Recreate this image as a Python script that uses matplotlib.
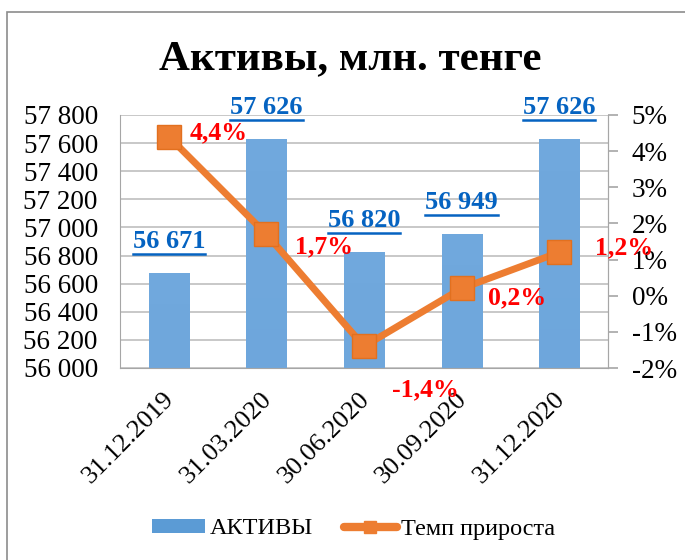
import matplotlib
matplotlib.use("Agg")
import matplotlib.pyplot as plt
import numpy as np
from matplotlib.colors import LinearSegmentedColormap
from matplotlib.lines import Line2D
from matplotlib.patches import Rectangle
from matplotlib.transforms import ScaledTranslation

categories = ["31.12.2019", "31.03.2020", "30.06.2020", "30.09.2020", "31.12.2020"]
assets = [56671, 57626, 56820, 56949, 57626]
asset_labels = ["56 671", "57 626", "56 820", "56 949", "57 626"]
growth = [4.4, 1.7, -1.4, 0.2, 1.2]
growth_labels = ["4,4%", "1,7%", "-1,4%", "0,2%", "1,2%"]
left_ticks = [56000, 56200, 56400, 56600, 56800, 57000, 57200, 57400, 57600, 57800]
left_tick_labels = ["56 000", "56 200", "56 400", "56 600", "56 800", "57 000",
                    "57 200", "57 400", "57 600", "57 800"]
right_ticks = [-2, -1, 0, 1, 2, 3, 4, 5]
right_tick_labels = ["-2%", "-1%", "0%", "1%", "2%", "3%", "4%", "5%"]

# label offsets in pixels (dx, dy) relative to marker, for growth labels
growth_offsets = [(21, 4), (29, -13), (28, -43), (26, -9), (36, 5)]

plt.rcParams['font.family'] = ['Liberation Serif', 'DejaVu Serif']

W, H = 685, 560
fig = plt.figure(figsize=(W / 100, H / 100), dpi=100)
px = 72 / 100  # points per pixel

# outer border
fig.patches.append(Rectangle((7 / W, -0.1), 2, (1 - 12 / H) + 0.1, transform=fig.transFigure,
                             fill=False, edgecolor="#8C8C8C", linewidth=1.2))

ax = fig.add_axes([120 / W, 1 - 368 / H, (608 - 120) / W, (368 - 115) / H])
x = np.arange(len(categories))
bars = ax.bar(x, assets, width=0.41, color="#5B9BD5", zorder=2)

cmap = LinearSegmentedColormap.from_list("bg", ["#3C7BC0", "#70A8DD"])
grad = np.linspace(0, 1, 256).reshape(-1, 1)
for b in bars:
    x0, y0 = b.get_x(), b.get_y()
    ax.imshow(grad, extent=[x0, x0 + b.get_width(), y0, y0 + b.get_height()],
              origin="lower", aspect="auto", cmap=cmap, zorder=2.1)
ax.set_ylim(56000, 57800)
ax.set_xlim(-0.5, len(categories) - 0.5)

ax.set_yticks(left_ticks)
ax.set_yticklabels(left_tick_labels, fontsize=19.5)
ax.yaxis.grid(True, color="#BFBFBF", linewidth=1.2, zorder=0)
ax.set_axisbelow(True)
ax.tick_params(axis="y", length=0, pad=16)
ax.set_xticks(x)
ax.set_xticklabels(categories, rotation=45, ha="right", va="center",
                   rotation_mode="anchor", fontsize=19)
ax.tick_params(axis="x", length=0, pad=20)
for lbl in ax.get_xticklabels():
    lbl.set_transform(lbl.get_transform() + ScaledTranslation(2 / 100, 0, fig.dpi_scale_trans))
ax.spines["top"].set_visible(False)
for s in ["left", "bottom", "right"]:
    ax.spines[s].set_color("#A6A6A6")

bar_texts = []
for xi, v, lab in zip(x, assets, asset_labels):
    t = ax.annotate(lab, (xi, v), xytext=(0, 32 * px), textcoords="offset points",
                    ha="center", va="center", fontsize=19, fontweight="bold",
                    color="#0563C1", annotation_clip=False)
    bar_texts.append(t)

ax2 = ax.twinx()
ax2.set_ylim(-2, 5)
ax2.plot(x, growth, color="#ED7D31", linewidth=5, marker="s", markersize=17,
         markerfacecolor="#ED7D31", markeredgecolor="#E2701F", zorder=3)
ax2.set_yticks(right_ticks)
ax2.set_yticklabels(right_tick_labels, fontsize=19.5)
ax2.tick_params(axis="y", length=7, width=1.2, color="#A6A6A6", pad=10)
for s in ["top", "left", "bottom"]:
    ax2.spines[s].set_visible(False)
ax2.spines["right"].set_color("#A6A6A6")

for xi, g, lab, (dx, dy) in zip(x, growth, growth_labels, growth_offsets):
    ax2.annotate(lab, (xi, g), xytext=(dx * px, dy * px), textcoords="offset points",
                 ha="left", va="center", fontsize=18.5, fontweight="bold",
                 color="#FF0000", annotation_clip=False, zorder=5)

fig.text(0.5 + 8 / W, 1 - 59 / H, "Активы, млн. тенге", ha="center", va="center",
         fontsize=31, fontweight="bold")

handles = [Rectangle((0, 0), 1, 1, facecolor="#5B9BD5"),
           Line2D([0], [0], color="#ED7D31", linewidth=6, marker="s", markersize=9,
                  solid_capstyle="round")]
fig.legend(handles, ["АКТИВЫ", "Темп прироста"], loc="center",
           bbox_to_anchor=(354 / W, 1 - 529 / H), ncol=2, frameon=False, fontsize=17.5,
           handlelength=2.15, handleheight=0.5, columnspacing=1.3, handletextpad=0.2)

# underline bar labels
fig.canvas.draw()
r = fig.canvas.get_renderer()
for t in bar_texts:
    bb = t.get_window_extent(r)
    yline = bb.y0 - 1
    fig.add_artist(Line2D([bb.x0 / W, bb.x1 / W], [yline / H, yline / H],
                          transform=fig.transFigure, color="#0563C1", linewidth=1.8))

fig.savefig("out.png", dpi=100)
